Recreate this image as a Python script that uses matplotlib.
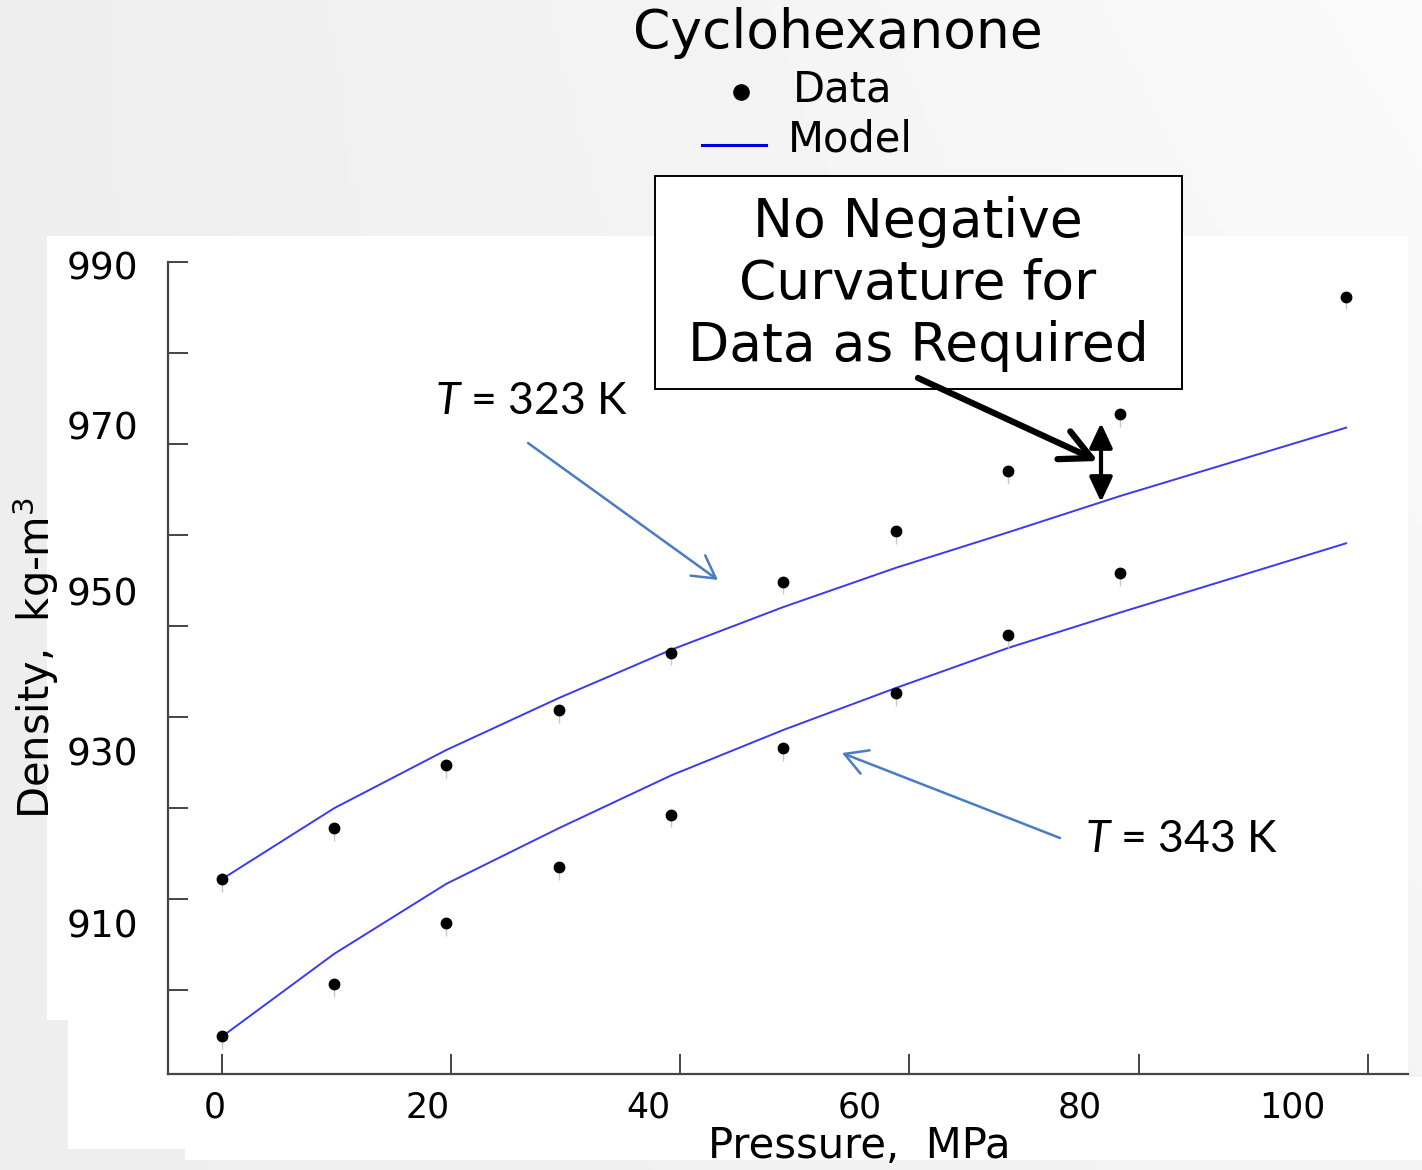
import numpy as np
import matplotlib.pyplot as plt
from matplotlib.patches import Rectangle, FancyArrowPatch

plt.rcParams['font.family'] = 'DejaVu Sans'
plt.rcParams['mathtext.fontset'] = 'custom'
plt.rcParams['mathtext.rm'] = 'DejaVu Sans'
plt.rcParams['mathtext.it'] = 'Lato:italic'

# pressure (MPa) and density (kg/m3) readings
p_data = [0, 9.8, 19.6, 29.4, 39.2, 49.0, 58.8, 68.6, 78.4, 98.1]
rho_323 = [922.2, 927.8, 934.7, 940.8, 947.1, 954.9, 960.4, 967.0, 973.3, 986.2]
rho_343 = [905.0, 910.7, 917.4, 923.5, 929.3, 936.6, 942.6, 949.0, 955.8]

# model curves evaluated at the same pressures
model_323 = [922.2, 930.0, 936.4, 942.1, 947.4, 952.1, 956.4, 960.3, 964.3, 971.8]
model_343 = [904.9, 914.0, 921.7, 927.8, 933.6, 938.6, 943.2, 947.6, 951.5, 959.1]

xticks = [0, 20, 40, 60, 80, 100]
yticks = [990, 980, 970, 960, 950, 940, 930, 920, 910]
xtick_labels = ['0', '20', '40', '60', '80', '100']
ytick_labels = ['990', '970', '950', '930', '910']

W, H = 1422, 1170
fig = plt.figure(figsize=(W / 100, H / 100), dpi=100)

# slide background: soft grey gradient with the white chart panel on top
bg = fig.add_axes([0, 0, 1, 1], zorder=-10)
bg.set_xlim(0, W)
bg.set_ylim(H, 0)
bg.axis('off')
gx = np.linspace(0, 1, 256)
gy = np.linspace(0, 1, 256)
GX, GY = np.meshgrid(gx, gy)
shade = 0.93 + 0.05 * GX * (1 - 0.5 * GY)
bg.imshow(shade, cmap='gray', vmin=0, vmax=1, extent=[0, W, H, 0], aspect='auto')
for (x0, y0, x1, y1) in [(47, 236, 1408, 1020), (68, 1020, 1408, 1149),
                         (1408, 1077, 1422, 1160), (185, 1149, 1422, 1160)]:
    bg.add_patch(Rectangle((x0, y0), x1 - x0, y1 - y0, color='white', lw=0))

# main plot area
ax = fig.add_axes([168 / W, 1 - 1074 / H, (1408 - 168) / W, (1074 - 262) / H])
ax.patch.set_alpha(0)
ax.set_xlim(-4.7, 103.5)
ax.set_ylim(900.8, 990)
for s in ['top', 'right']:
    ax.spines[s].set_visible(False)
for s in ['left', 'bottom']:
    ax.spines[s].set_color('#444444')
    ax.spines[s].set_linewidth(1.6)
ax.set_xticks(xticks)
ax.set_yticks(yticks)
ax.set_xticklabels([])
ax.set_yticklabels([])
ax.tick_params(direction='in', length=14.5, width=1.4, color='#444444')

line_kw = dict(color='#3a3af2', lw=1.4)
ax.plot(p_data, model_323, **line_kw)
ax.plot(p_data[:len(model_343)], model_343, **line_kw)

for rho in [rho_323, rho_343]:
    pp = p_data[:len(rho)]
    ax.vlines(pp, np.array(rho) - 1.4, rho, color='#c8c8c8', lw=1, zorder=2)
    ax.plot(pp, rho, 'o', color='black', ms=7.5, zorder=3, clip_on=False)

# overlay in pixel coordinates for slide text and callouts
ov = fig.add_axes([0, 0, 1, 1], zorder=5)
ov.set_xlim(0, W)
ov.set_ylim(H, 0)
ov.axis('off')
ov.patch.set_alpha(0)

ylab_pos = [270, 430, 595, 755, 928]
for lab, yp in zip(ytick_labels, ylab_pos):
    ov.text(138, yp, lab, ha='right', va='center', fontsize=27)
xlab_pos = [215, 428, 648, 860, 1080, 1292]
for lab, xp in zip(xtick_labels, xlab_pos):
    ov.text(xp, 1107, lab, ha='center', va='center', fontsize=25)

ov.text(859, 1146, 'Pressure,  MPa', ha='center', va='center', fontsize=30)
ov.text(36, 658, 'Density,  kg-m$^3$', ha='center', va='center',
        rotation=90, fontsize=30)

ov.text(838, 33, 'Cyclohexanone', ha='center', va='center', fontsize=38.5)
ov.plot([741], [92], 'o', color='black', ms=11)
ov.text(793, 89, 'Data', ha='left', va='center', fontsize=30)
ov.plot([702, 766], [145, 145], color='#0000e6', lw=2.2)
ov.text(788, 140, 'Model', ha='left', va='center', fontsize=30)

ov.add_patch(Rectangle((655, 176), 527, 213, facecolor='white',
                       edgecolor='black', lw=1.4))
ov.text(918, 284, 'No Negative\nCurvature for\nData as Required',
        ha='center', va='center', fontsize=38.5, linespacing=1.25)

ov.text(435, 402, '$\\mathit{T}$ = 323 K', ha='left', va='center',
        fontsize=32, family='Lato')
ov.text(1085, 840, '$\\mathit{T}$ = 343 K', ha='left', va='center',
        fontsize=32, family='Lato')

arrow_blue = dict(arrowstyle='->,head_length=0.8,head_width=0.45',
                  color='#4a7cc4', lw=1.8, mutation_scale=20,
                  shrinkA=0, shrinkB=0)
ov.add_patch(FancyArrowPatch((528, 443), (718, 580), **arrow_blue))
ov.add_patch(FancyArrowPatch((1060, 838), (842, 753), **arrow_blue))

ov.add_patch(FancyArrowPatch((918, 378), (1098, 461),
                             arrowstyle='->,head_length=1.1,head_width=0.55',
                             color='black', lw=4.5, shrinkA=0, shrinkB=0,
                             mutation_scale=20, capstyle='round',
                             joinstyle='round'))
ov.add_patch(FancyArrowPatch((1101, 423), (1101, 502),
                             arrowstyle='<|-|>,head_length=0.75,head_width=0.35',
                             color='black', lw=3, shrinkA=0, shrinkB=0,
                             mutation_scale=20))

fig.savefig('out.png', dpi=100)
